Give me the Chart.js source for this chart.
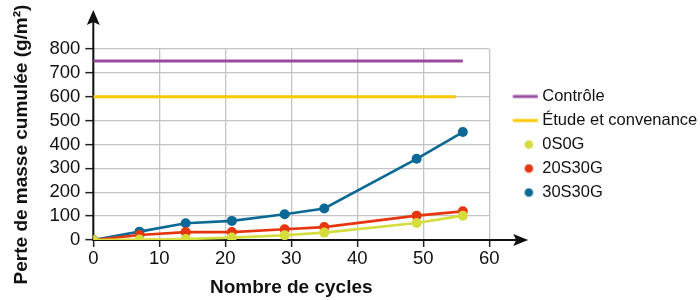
<!DOCTYPE html>
<html><head><meta charset="utf-8">
<script src="https://cdn.jsdelivr.net/npm/chart.js@4"></script>
<style>html,body{margin:0;padding:0;background:#fff}#wrap{width:700px;height:300px;position:relative}</style>
</head><body><div id="wrap"><canvas id="c"></canvas></div>
<script>
// ---- data ----
const cycles   = [0, 7, 14, 21, 29, 35, 49, 56];
const v0S0G    = [0, 2, 4, 10, 20, 31, 71, 102];
const v20S30G  = [0, 21, 33, 33, 45, 54, 102, 120];
const v30S30G  = [0, 35, 70, 80, 108, 132, 340, 452];
const controleX = [0, 56];
const controleY = [750, 750];
const etudeX    = [0, 55];
const etudeY    = [600, 600];
const seriesLabels = ['Contrôle', 'Étude et convenance', '0S0G', '20S30G', '30S30G'];
const xTickStep = 10, xMin = 0, xMax = 60;
const yTickStep = 100, yMin = 0, yMax = 800;
const xTitle = 'Nombre de cycles';
const yTitle = 'Perte de masse cumulée (g/m²)';

const C = { purple:'#9b4b9e', yellow:'#fcc800', lime:'#d5dc3b', red:'#e6360f', blue:'#0c6996' };
const FONT = '"Liberation Sans", Arial, Helvetica, sans-serif';
const toPts = (xs, ys) => xs.map((x, i) => ({x, y: ys[i]}));

function icon(kind, color){
  const cv = document.createElement('canvas');
  cv.width = 46; cv.height = 10;
  const g = cv.getContext('2d');
  g.fillStyle = color;
  if (kind === 'line') { g.fillRect(20.5, 3.5, 25, 3); }
  else { g.beginPath(); g.arc(36.5, 5, 4.3, 0, Math.PI*2); g.fill(); }
  return cv;
}

const axesPlugin = {
  id: 'axesArrows',
  beforeDatasetsDraw(chart){
    const {ctx, chartArea:a, scales} = chart;
    const x0 = scales.x.getPixelForValue(0), y0 = scales.y.getPixelForValue(0);
    const yTip = 10, xTip = a.right + 39;
    ctx.save();
    ctx.strokeStyle = '#111'; ctx.fillStyle = '#111'; ctx.lineWidth = 2;
    ctx.beginPath();
    ctx.moveTo(x0, y0 + 1); ctx.lineTo(x0, yTip + 8);
    ctx.moveTo(x0 - 1, y0); ctx.lineTo(xTip - 8, y0);
    ctx.stroke();
    ctx.beginPath();
    ctx.moveTo(x0, yTip); ctx.lineTo(x0 + 6.5, yTip + 15); ctx.lineTo(x0, yTip + 12); ctx.lineTo(x0 - 6.5, yTip + 15); ctx.closePath();
    ctx.fill();
    ctx.beginPath();
    ctx.moveTo(xTip, y0); ctx.lineTo(xTip - 15, y0 - 6); ctx.lineTo(xTip - 12, y0); ctx.lineTo(xTip - 15, y0 + 6); ctx.closePath();
    ctx.fill();
    ctx.restore();
  }
};

const refLine = (label, xs, ys, color) => ({
  label, data: toPts(xs, ys), borderColor: color, backgroundColor: color,
  borderWidth: 3, pointRadius: 0, pointHoverRadius: 0, _kind: 'line'
});
const series = (label, ys, color) => ({
  label, data: toPts(cycles, ys), borderColor: color, backgroundColor: color,
  borderWidth: 2.6, pointRadius: 5, pointBorderWidth: 0, pointHoverRadius: 5, _kind: 'dot'
});

new Chart(document.getElementById('c'), {
  type: 'line',
  data: {
    datasets: [
      refLine(seriesLabels[0], controleX, controleY, C.purple),
      refLine(seriesLabels[1], etudeX, etudeY, C.yellow),
      series(seriesLabels[2], v0S0G, C.lime),
      series(seriesLabels[3], v20S30G, C.red),
      series(seriesLabels[4], v30S30G, C.blue)
    ]
  },
  options: {
    responsive: true, maintainAspectRatio: false, animation: false,
    layout: { padding: { top: 49, right: -7.3, bottom: 0, left: 0 } },
    plugins: {
      tooltip: { enabled: false },
      legend: {
        position: 'right', fullSize: false, align: 'center', maxWidth: 400,
        labels: {
          usePointStyle: true, pointStyleWidth: 37.3, padding: 7.5,
          color: '#111', font: { family: FONT, size: 16.5 },
          generateLabels(chart){
            return chart.data.datasets.map((ds, i) => ({
              text: ds.label, datasetIndex: i, hidden: false,
              fillStyle: ds.borderColor, strokeStyle: ds.borderColor, lineWidth: 0,
              fontColor: '#111', pointStyle: icon(ds._kind, ds.borderColor)
            }));
          }
        }
      }
    },
    scales: {
      x: {
        type: 'linear', min: xMin, max: xMax,
        ticks: { stepSize: xTickStep, autoSkip: false, color: '#111', padding: 1, font: { family: FONT, size: 18.5 } },
        grid: { color: '#c4c4c4', lineWidth: 1.3, tickLength: 7, tickColor: '#222', tickWidth: 1.5 },
        border: { display: false },
        title: { display: true, text: xTitle, color: '#111', padding: { top: 0, bottom: 1 },
                 font: { family: FONT, size: 19, weight: 'bold' } },
        afterFit(s){ s.height = 60; }
      },
      y: {
        min: yMin, max: yMax,
        ticks: { stepSize: yTickStep, autoSkip: false, color: '#111', padding: 5, font: { family: FONT, size: 18.5 } },
        grid: { color: '#c4c4c4', lineWidth: 1.3, tickLength: 8, tickColor: '#222', tickWidth: 1.5 },
        border: { display: false },
        title: { display: true, text: yTitle, color: '#111', padding: { top: 10, bottom: 0 },
                 font: { family: FONT, size: 19, weight: 'bold' } },
        afterFit(s){ s.width = 93.3; }
      }
    }
  },
  plugins: [axesPlugin]
});
</script></body></html>
